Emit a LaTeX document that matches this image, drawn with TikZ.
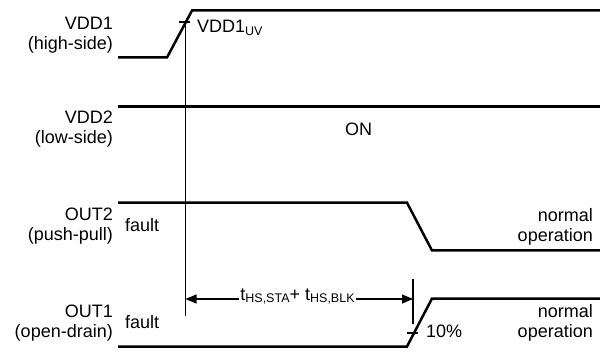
\documentclass[tikz,border=0pt]{standalone}
\usepackage{fontspec}
\setmainfont{Liberation Sans}
\usetikzlibrary{arrows.meta}
\newcommand{\subtxt}[1]{\raisebox{-2.5pt}{\fontsize{12.5}{12.5}\selectfont #1}}
\begin{document}
\begin{tikzpicture}[x=1pt,y=-1pt,
  sig/.style={line width=2.5pt, line join=miter},
  thin mark/.style={line width=1.6pt},
  dim/.style={line width=1.1pt, {Triangle[length=11pt,width=9pt]}-{Triangle[length=11pt,width=9pt]}},
  lab/.style={font=\fontsize{18}{21}\selectfont, inner sep=0pt},
  lname/.style={lab, anchor=base east},
  rtxt/.style={lab, anchor=base east},
  ltxt/.style={lab, anchor=base west}]
\useasboundingbox (0,0) rectangle (600,358);

% left signal names
\node[lname] (n1a) at (113,29.5) {VDD1};
\node[lname] (n1b) at (113,49.5) {(high-side)};
\node[lname] (n2a) at (113,124) {VDD2};
\node[lname] (n2b) at (113,144) {(low-side)};
\node[lname] (n3a) at (113,221) {OUT2};
\node[lname] (n3b) at (113,241) {(push-pull)};
\node[lname] (n4a) at (113,317) {OUT1};
\node[lname] (n4b) at (113,337) {(open-drain)};

% VDD1 waveform
\coordinate (v1s) at (118,57.5);
\coordinate (v1r) at (167,57.5);
\coordinate (v1t) at (192,10.5);
\coordinate (v1e) at (600,10.5);
\draw[sig] (v1s) -- (v1r) -- (v1t) -- (v1e);

% VDD2 waveform
\coordinate (v2s) at (118,106.7);
\coordinate (v2e) at (600,106.7);
\draw[sig] (v2s) -- (v2e);

% OUT2 waveform
\coordinate (o2s) at (118,202.7);
\coordinate (o2f) at (407,202.7);
\coordinate (o2b) at (432,250.5);
\coordinate (o2e) at (600,250.5);
\draw[sig] (o2s) -- (o2f) -- (o2b) -- (o2e);

% OUT1 waveform
\coordinate (o1s) at (118,346.5);
\coordinate (o1r) at (407,346.5);
\coordinate (o1t) at (432,298.5);
\coordinate (o1e) at (600,298.5);
\draw[sig] (o1s) -- (o1r) -- (o1t) -- (o1e);

% marker lines
\coordinate (m1top) at (185.5,22);
\coordinate (m1bot) at (185.5,316);
\draw[thin mark] (m1top) -- (m1bot);
\coordinate (t1l) at (179,22);
\coordinate (t1r) at (190,22);
\draw[thin mark] (t1l) -- (t1r);

\coordinate (m2top) at (413,279);
\coordinate (m2bot) at (413,324);
\draw[thin mark] (m2top) -- (m2bot);
\coordinate (t2l) at (407,333);
\coordinate (t2r) at (418,333);
\draw[thin mark] (t2l) -- (t2r);

% dimension arrow
\coordinate (al) at (185.5,299);
\coordinate (ar) at (413,299);
\draw[dim] (al) -- (ar);
\node[lab, anchor=base, fill=white, inner xsep=1.5pt, inner ysep=0.5pt] (tlab) at (297.5,300)
  {t\subtxt{HS,STA}+ t\subtxt{HS,BLK}};

% texts
\node[ltxt] (uv) at (197,33) {VDD1\subtxt{UV}};
\node[ltxt] (on) at (345,136) {ON};
\node[ltxt] (f2) at (125,232) {fault};
\node[ltxt] (f1) at (125,328) {fault};
\node[rtxt] (no2a) at (593,222) {normal};
\node[rtxt] (no2b) at (593,242) {operation};
\node[rtxt] (no1a) at (593,317) {normal};
\node[rtxt] (no1b) at (593,337) {operation};
\node[ltxt] (pct) at (426,337) {10\%};
\end{tikzpicture}
\end{document}
